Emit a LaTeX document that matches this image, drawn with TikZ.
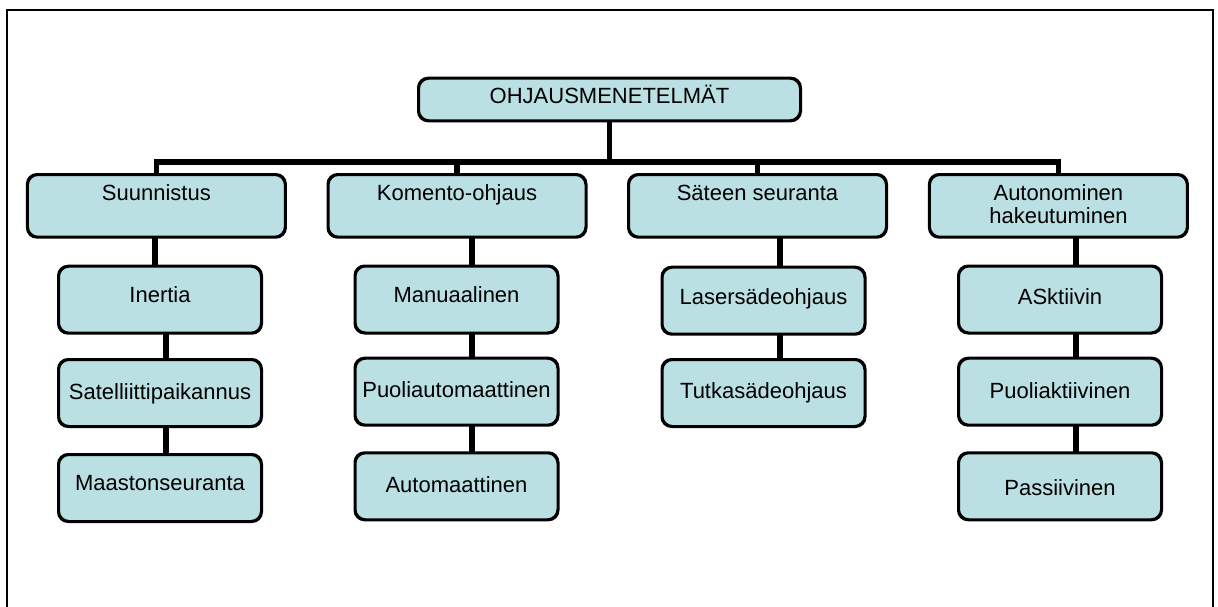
\documentclass[tikz,border=0pt]{standalone}
\usepackage{fontspec}
\setmainfont{Liberation Sans}
\definecolor{boxfill}{RGB}{187,224,227}
\tikzset{
  x=1pt, y=-1pt,
  box/.style={draw=black, line width=2pt, fill=boxfill, rounded corners=10pt,
    inner sep=0pt, font=\fontsize{22}{24.5}\selectfont, anchor=north},
  rootbox/.style={box, minimum width=381pt, text height=24.3pt, text depth=17.3pt},
  topbox/.style={box, minimum width=257pt, text height=25.7pt, text depth=36pt},
  subbox/.style={box, minimum width=202pt, text height=#1, text depth={66pt-#1}},
  conn/.style={line width=5.5pt, draw=black}
}
\begin{document}
\begin{tikzpicture}
\useasboundingbox (0,0) rectangle (1218,606);
\draw[line width=2pt] (6.5,9.5) rectangle (1213,630);

% root
\node[rootbox] (root) at (609.5,77.7) {OHJAUSMENETELMÄT};

% level 1
\node[topbox] (s) at (156.4,174) {Suunnistus};
\node[topbox] (k) at (457,174) {Komento-ohjaus};
\node[topbox] (t) at (757.5,174) {Säteen seuranta};
\node[topbox] (a) at (1058.4,174) {\begin{tabular}[t]{@{}c@{}}Autonominen\\[-1.5pt]hakeutuminen\end{tabular}};

% level 2, column 1
\node[subbox=35.6pt] (s1) at (160,265.7) {Inertia};
\node[subbox=39pt] (s2) at (160,359) {Satelliittipaikannus};
\node[subbox=35.7pt] (s3) at (160,454) {Maastonseuranta};
% column 2
\node[subbox=36pt] (k1) at (456.5,265.5) {Manuaalinen};
\node[subbox=38.6pt] (k2) at (456.5,357.7) {Puoliautomaattinen};
\node[subbox=39pt] (k3) at (456.5,452.3) {Automaattinen\hspace{10pt}};
% column 3
\node[subbox=36.3pt] (t1) at (763.5,266.7) {Lasersädeohjaus};
\node[subbox=38.3pt] (t2) at (763.5,359) {Tutkasädeohjaus};
% column 4
\node[subbox=38pt] (a1) at (1060,265.5) {ASktiivin\hspace{12pt}};
\node[subbox=39.6pt] (a2) at (1060,357.7) {Puoliaktiivinen};
\node[subbox=42.4pt] (a3) at (1060,452.3) {Passiivinen};

% connectors
\coordinate (bus) at (609.5,162);
\draw[conn] (root.south) -- (root.south |- bus);
\draw[conn, line cap=rect] (s.north |- bus) -- (a.north |- bus);
\draw[conn] (s.north |- bus) -- (s.north);
\draw[conn] (k.north |- bus) -- (k.north);
\draw[conn] (t.north |- bus) -- (t.north);
\draw[conn] (a.north |- bus) -- (a.north);

\draw[conn] ([xshift=-5pt]s1.north) -- ([xshift=-5pt]s1.north |- s.south);
\draw[conn] ([xshift=6pt]s2.north) -- ([xshift=6pt]s2.north |- s1.south);
\draw[conn] ([xshift=6pt]s3.north) -- ([xshift=6pt]s3.north |- s2.south);

\draw[conn] ([xshift=15.5pt]k1.north) -- ([xshift=15.5pt]k1.north |- k.south);
\draw[conn] ([xshift=15.5pt]k2.north) -- ([xshift=15.5pt]k2.north |- k1.south);
\draw[conn] ([xshift=15.5pt]k3.north) -- ([xshift=15.5pt]k3.north |- k2.south);

\draw[conn] ([xshift=16.5pt]t1.north) -- ([xshift=16.5pt]t1.north |- t.south);
\draw[conn] ([xshift=16.5pt]t2.north) -- ([xshift=16.5pt]t2.north |- t1.south);

\draw[conn] ([xshift=16pt]a1.north) -- ([xshift=16pt]a1.north |- a.south);
\draw[conn] ([xshift=16pt]a2.north) -- ([xshift=16pt]a2.north |- a1.south);
\draw[conn] ([xshift=16pt]a3.north) -- ([xshift=16pt]a3.north |- a2.south);

% redraw box borders over connector ends
\foreach \n in {root,s,k,t,a,s1,s2,s3,k1,k2,k3,t1,t2,a1,a2,a3}{
  \draw[line width=2pt, rounded corners=10pt] (\n.north west) rectangle (\n.south east);
}
\end{tikzpicture}
\end{document}
